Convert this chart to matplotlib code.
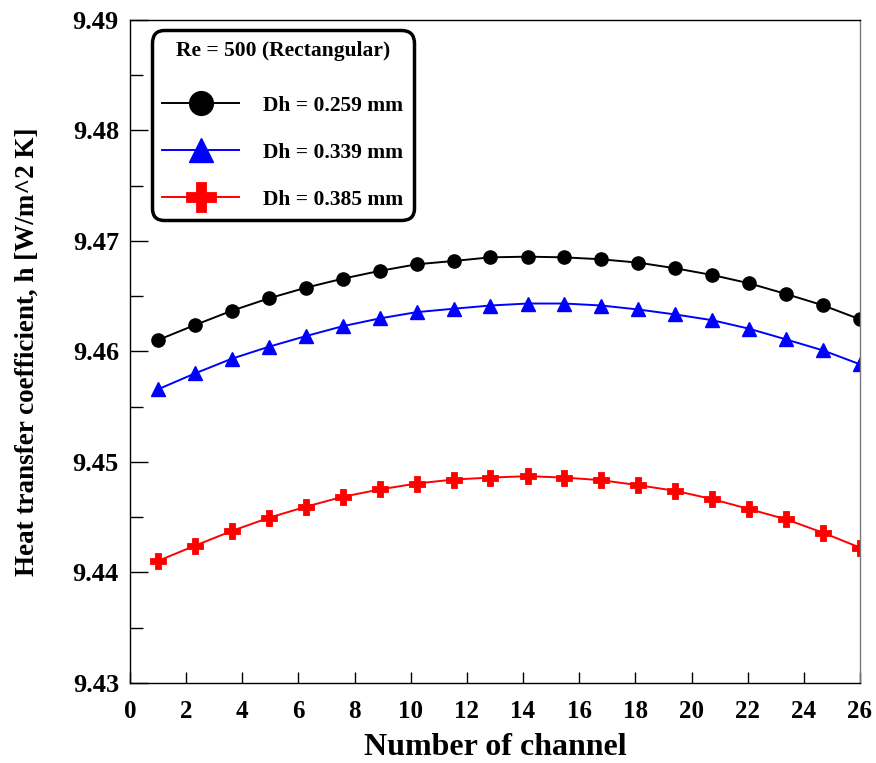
import matplotlib
matplotlib.use("Agg")
import matplotlib.pyplot as plt
import numpy as np

plt.rcParams['font.family'] = ['Liberation Serif', 'DejaVu Serif']
plt.rcParams['font.weight'] = 'bold'

# channel positions (20 channels spread over 1..26)
channels = [1.00, 2.32, 3.63, 4.95, 6.26, 7.58, 8.89, 10.21, 11.53, 12.84,
            14.16, 15.47, 16.79, 18.10, 19.42, 20.74, 22.05, 23.37, 24.68, 26.00]

h_0259 = [9.46104, 9.46240, 9.46369, 9.46481, 9.46577, 9.46659, 9.46729, 9.46789,
          9.46819, 9.46852, 9.46858, 9.46852, 9.46834, 9.46804, 9.46753, 9.46692,
          9.46617, 9.46520, 9.46418, 9.46291]
h_0339 = [9.45658, 9.45802, 9.45935, 9.46043, 9.46139, 9.46229, 9.46299, 9.46356,
          9.46387, 9.46416, 9.46434, 9.46434, 9.46416, 9.46380, 9.46335, 9.46283,
          9.46206, 9.46109, 9.46010, 9.45884]
h_0385 = [9.44105, 9.44243, 9.44376, 9.44495, 9.44595, 9.44685, 9.44751, 9.44805,
          9.44841, 9.44859, 9.44871, 9.44859, 9.44835, 9.44790, 9.44739, 9.44664,
          9.44574, 9.44481, 9.44360, 9.44225]

labels = ["Dh = 0.259 mm", "Dh = 0.339 mm", "Dh = 0.385 mm"]
x_ticks = list(range(0, 27, 2))
y_ticks = [9.43, 9.44, 9.45, 9.46, 9.47, 9.48, 9.49]

fig = plt.figure(figsize=(8.76, 7.63), dpi=100)
ax = fig.add_axes([0.1484, 0.1049, 0.8333, 0.8689])

ax.plot(channels, h_0259, color='black', lw=1.4, marker='o', ms=9.5, label=labels[0])
ax.plot(channels, h_0339, color='blue', lw=1.4, marker='^', ms=9.5, label=labels[1])
ax.plot(channels, h_0385, color='red', lw=1.4, marker='P', ms=12, mew=0.6, label=labels[2])

ax.set_xlim(0, 26)
ax.set_ylim(9.43, 9.49)
ax.set_xticks(x_ticks)
ax.set_yticks(y_ticks)
ax.set_yticks([9.435, 9.445, 9.455, 9.465, 9.475, 9.485], minor=True)
ax.set_yticklabels(["%.2f" % v for v in y_ticks])

ax.tick_params(axis='y', which='major', direction='in', length=13, width=1, labelsize=19, pad=8)
ax.tick_params(axis='y', which='minor', direction='in', length=9, width=1)
ax.tick_params(axis='x', which='major', direction='in', length=8, width=1, labelsize=18, pad=12)
for lab in ax.get_xticklabels() + ax.get_yticklabels():
    lab.set_fontweight('bold')

for sp in ax.spines.values():
    sp.set_linewidth(1)
ax.spines['right'].set_color('#777777')

ax.set_xlabel("Number of channel", fontsize=23, fontweight='bold')
ax.xaxis.set_label_coords(0.5, -0.076)
ax.set_ylabel("Heat transfer coefficient, h [W/m^2 K]", fontsize=19.5, fontweight='bold', labelpad=24)

leg = ax.legend(loc='upper left', bbox_to_anchor=(0.0301, 0.984), borderaxespad=0,
                title="Re = 500 (Rectangular)",
                prop={'size': 15.5, 'weight': 'bold'}, title_fontproperties={'size': 15.5, 'weight': 'bold'},
                markerscale=1.8, handlelength=3.55, handletextpad=1.15, labelspacing=1.25,
                borderpad=0.48, fancybox=True, framealpha=1, edgecolor='black')
leg.get_frame().set_linewidth(2.5)
leg.get_frame().set_boxstyle('round', pad=0.02, rounding_size=0.6)
leg._legend_box.sep = 25

fig.savefig("out.png", dpi=100)
